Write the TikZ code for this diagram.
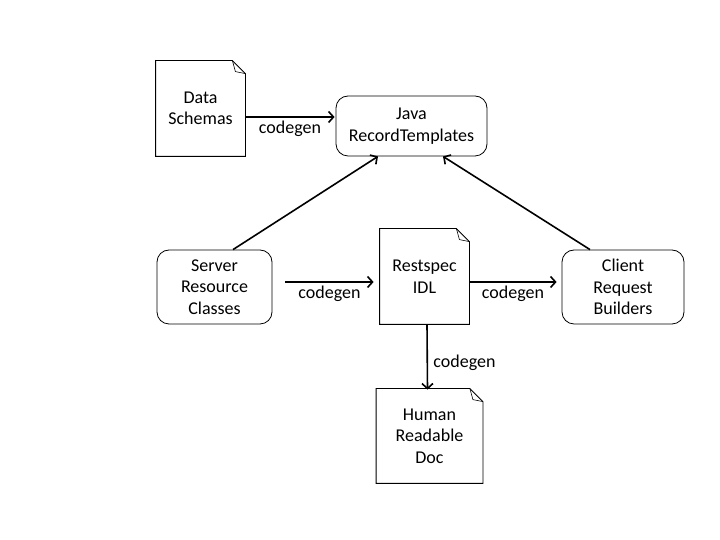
\documentclass[tikz,border=0pt]{standalone}
\usepackage{fontspec}
\setmainfont{Carlito}
\usetikzlibrary{calc,arrows.meta}

\tikzset{
    box/.style={draw, line width=0.8pt, rounded corners=12pt, align=center, font=\fontsize{18pt}{21.5pt}\selectfont},
    doc/.style={line width=0.8pt, align=center, font=\fontsize{18pt}{21.5pt}\selectfont, minimum width=89pt, minimum height=95pt},
    flow/.style={line width=1.6pt, -{Straight Barb[length=5pt,width=11pt]}},
    lbl/.style={font=\fontsize{18pt}{21.5pt}\selectfont}
}

\begin{document}
\begin{tikzpicture}
    \useasboundingbox (0,0) rectangle (720pt,540pt);
    \begin{scope}[x=1pt,y=1pt]
    \node[doc] at (200.5,431.5) (schemas) {Data\\Schemas};
    \node[box,minimum width=151pt,minimum height=60pt] at (411.5,414) (java) {Java\\RecordTemplates};
    \node[box,minimum width=115pt,minimum height=74pt] at (214.5,253) (server) {Server\\Resource\\Classes};
    \node[doc] at (424.5,263.5) (idl) {Restspec\\IDL};
    \node[box,minimum width=122pt,minimum height=74pt] at (623,253) (client) {Client\\Request\\Builders};
    \node[doc,minimum width=106pt,minimum height=94pt] at (429.5,104) (human) {Human\\Readable\\Doc};
    % folded page outlines
    \foreach \d in {schemas,idl,human} {
        \draw[line width=0.8pt] (\d.north west) -- ($(\d.north east)+(-13,0)$) -- ($(\d.north east)+(0,-13)$) -- (\d.south east) -- (\d.south west) -- cycle;
        \draw[line width=0.6pt] ($(\d.north east)+(-13,0)$) -- ($(\d.north east)+(-10,-11)$) -- ($(\d.north east)+(0,-13)$);
    }
    \draw[flow] ($(schemas.east)+(0,-8.5)$) -- ($(java.west)+(-1,9)$) node [midway,below,lbl] {codegen};
    \draw[flow] ($(server.north)+(18.5,0)$) -- ($(java.south)+(-33.5,0)$);
    \draw[flow] ($(client.north)+(-33,0)$) -- ($(java.south)+(31.5,0)$);
    \draw[flow] ($(server.east)+(13,5)$) -- ($(idl.west)+(-6,-5.5)$) node [midway,below,lbl] {codegen};
    \draw[flow] ($(idl.east)+(0,-5.5)$) -- ($(client.west)+(-5,5)$) node [midway,below,lbl] {codegen};
    \draw[flow] ($(idl.south)+(2.5,0)$) -- ($(human.north)+(-2,-1)$) node [midway,right,lbl,xshift=2pt,yshift=-6pt] {codegen};
    \end{scope}
\end{tikzpicture}
\end{document}
